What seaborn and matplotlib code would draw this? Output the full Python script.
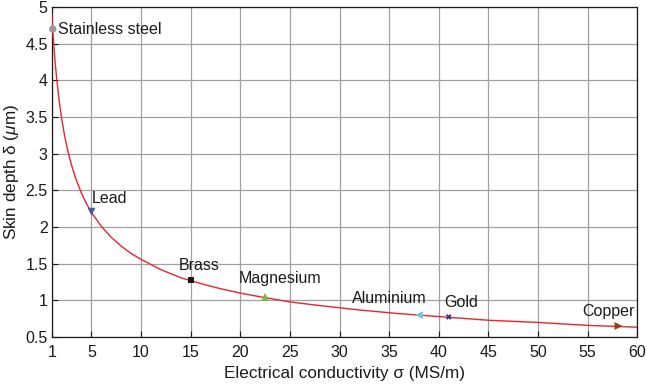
import numpy as np
import pandas as pd
import matplotlib
matplotlib.use("Agg")
import matplotlib.pyplot as plt
import seaborn as sns

# skin depth curve
sigma_curve = [1, 1.1, 1.2, 1.35, 1.5, 1.75, 2, 2.3, 2.6, 3, 3.5, 4, 4.5, 5,
               6, 7, 8, 9, 10, 12, 14, 16, 18, 20, 22, 25, 28, 32, 36, 40,
               45, 50, 55, 60]
delta_curve = [4.92, 4.69, 4.49, 4.23, 4.02, 3.72, 3.48, 3.24, 3.05, 2.84,
               2.63, 2.46, 2.32, 2.20, 2.01, 1.86, 1.74, 1.64, 1.56, 1.42,
               1.31, 1.23, 1.16, 1.10, 1.05, 0.98, 0.93, 0.87, 0.82, 0.78,
               0.73, 0.70, 0.66, 0.635]

# metals
metals = ["Stainless steel", "Lead", "Brass", "Magnesium", "Aluminium", "Gold", "Copper"]
sigma_metal = [1.1, 5.0, 15.0, 22.5, 38.0, 41.0, 58.1]
delta_metal = [4.70, 2.21, 1.275, 1.05, 0.80, 0.775, 0.652]

metal_colors = ["#9a9a9a", "#3b5ba5", "#1a1a1a", "#7cb94d", "#6ec6e3", "#2e3188", "#a23b1c"]
metal_markers = ["o", "v", "s", "^", "<", "X", ">"]
metal_sizes = [28, 32, 18, 32, 32, 16, 32]
# label offsets in pixels (dx, dy) and alignment
label_pos = [(5, 0, "left", "center"), (0, 9, "left", "baseline"), (8, 10, "center", "baseline"),
             (15, 14, "center", "baseline"), (8, 12, "right", "baseline"), (-4, 10, "left", "baseline"),
             (16, 10, "right", "baseline")]

sns.set_style("ticks")
plt.rcParams["font.family"] = ["Liberation Sans", "DejaVu Sans"]
plt.rcParams["mathtext.fontset"] = "custom"
plt.rcParams["mathtext.it"] = "Liberation Sans:italic"

fig = plt.figure(figsize=(6.47, 3.92), dpi=100)
ax = fig.add_axes([0.080, 0.140, 0.905, 0.842])

df_curve = pd.DataFrame({"sigma": sigma_curve, "delta": delta_curve})
sns.lineplot(data=df_curve, x="sigma", y="delta", color="#e8252b", linewidth=1.0, ax=ax, zorder=3)

df_metal = pd.DataFrame({"metal": metals, "sigma": sigma_metal, "delta": delta_metal})
sns.scatterplot(data=df_metal, x="sigma", y="delta", hue="metal", style="metal", size="metal",
                palette=dict(zip(metals, metal_colors)),
                markers=dict(zip(metals, metal_markers)),
                sizes=dict(zip(metals, metal_sizes)),
                edgecolor="none", legend=False, ax=ax, zorder=4, clip_on=False)

for name, sx, dy, (ox, oy, ha, va) in zip(metals, sigma_metal, delta_metal, label_pos):
    ax.annotate(name, (sx, dy), xytext=(ox, oy), textcoords="offset pixels",
                ha=ha, va=va, fontsize=11.5, color="#1a1a1a", zorder=5)

ax.set_xlim(1, 60)
ax.set_ylim(0.5, 5)
ax.set_xticks([1, 5, 10, 15, 20, 25, 30, 35, 40, 45, 50, 55, 60])
ax.set_yticks([0.5, 1, 1.5, 2, 2.5, 3, 3.5, 4, 4.5, 5])
ax.set_yticklabels(["0.5", "1", "1.5", "2", "2.5", "3", "3.5", "4", "4.5", "5"])
ax.grid(True, color="#a0a0a0", linewidth=0.9)
ax.tick_params(direction="in", length=4, labelsize=11.5, colors="#1a1a1a", pad=3)
ax.tick_params(axis="x", pad=6)
for sp in ax.spines.values():
    sp.set_visible(True)
    sp.set_color("#1a1a1a")
    sp.set_linewidth(0.9)

ax.set_xlabel("Electrical conductivity σ (MS/m)", fontsize=12.3, color="#1a1a1a", labelpad=4)
ax.set_ylabel("Skin depth δ ($\\mu$m)", fontsize=12.3, color="#1a1a1a", labelpad=3)

fig.savefig("out.png", dpi=100)
